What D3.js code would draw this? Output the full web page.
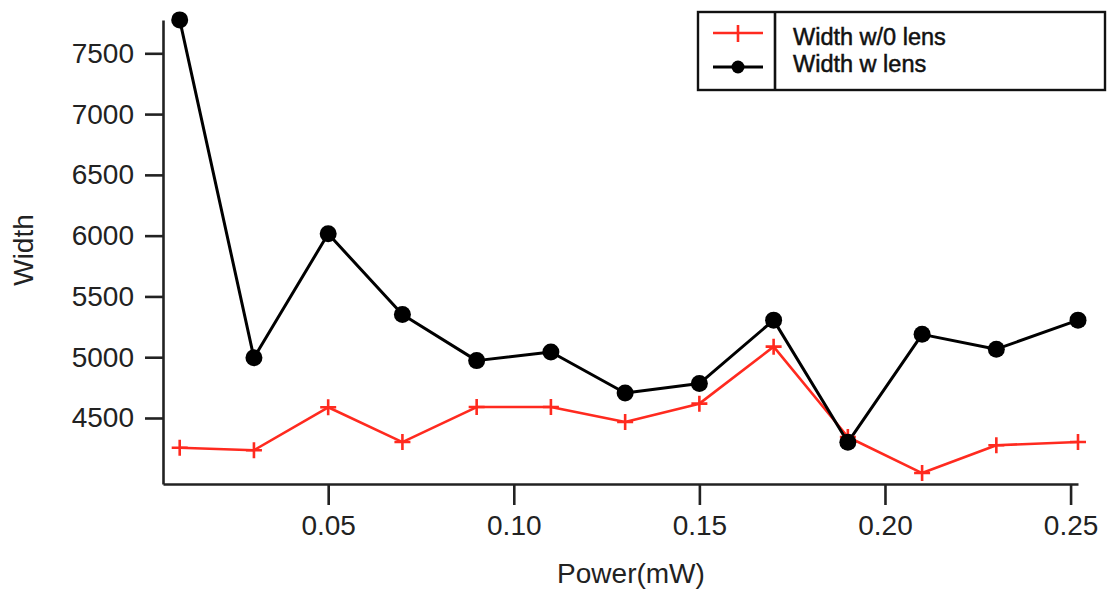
<!DOCTYPE html>
<html>
<head>
<meta charset="utf-8">
<script src="https://cdn.jsdelivr.net/npm/d3@7"></script>
<style>
  html, body { margin: 0; padding: 0; background: #fff; }
  svg { display: block; }
</style>
</head>
<body>
<svg id="chart" width="1107" height="594"></svg>
<script>
// ---- Data ----
const power = [0.01, 0.03, 0.05, 0.07, 0.09, 0.11, 0.13, 0.15, 0.17, 0.19, 0.21, 0.23, 0.252];
const widthNoLens = [4255, 4235, 4588, 4302, 4590, 4590, 4467, 4618, 5087, 4344, 4047, 4276, 4302];
const widthLens   = [7775, 4995, 6015, 5352, 4972, 5043, 4706, 4783, 5305, 4300, 5188, 5066, 5305];
const xTicks = [0.05, 0.10, 0.15, 0.20, 0.25];
const yTicks = [4500, 5000, 5500, 6000, 6500, 7000, 7500];
const seriesNames = ["Width w/0 lens", "Width w lens"];
const xTitle = "Power(mW)";
const yTitle = "Width";

const svg = d3.select("#chart");
const axisColor = "#222";
const fontAxis = "'Liberation Sans', Arial, Helvetica, sans-serif";

const x = d3.scaleLinear().domain([0.0055, 0.252]).range([163, 1078]);
const y = d3.scaleLinear().domain([3957, 7774]).range([484, 20]);

// ---- Axes ----
const xAxis = d3.axisBottom(x).tickValues(xTicks).tickFormat(d3.format(".2f")).tickSizeInner(21).tickSizeOuter(0).tickPadding(10);
const gx = svg.append("g").attr("transform", `translate(0,${y.range()[0]})`).call(xAxis);
gx.select(".domain").attr("stroke", axisColor).attr("stroke-width", 2.6);
gx.selectAll(".tick line").attr("stroke", axisColor).attr("stroke-width", 2.6);
gx.selectAll(".tick text").attr("fill", "#222").style("font-family", fontAxis).style("font-size", "28px");

const yAxis = d3.axisLeft(y).tickValues(yTicks).tickFormat(d3.format("d")).tickSizeInner(18).tickSizeOuter(0).tickPadding(11);
const gy = svg.append("g").attr("transform", `translate(${x.range()[0]},0)`).call(yAxis);
gy.select(".domain").attr("stroke", axisColor).attr("stroke-width", 2.6);
gy.selectAll(".tick line").attr("stroke", axisColor).attr("stroke-width", 2.6);
gy.selectAll(".tick text").attr("fill", "#222").style("font-family", fontAxis).style("font-size", "28px");

// Axis titles
svg.append("text").attr("x", 631).attr("y", 583).attr("text-anchor", "middle")
  .attr("fill", "#222").style("font-family", fontAxis).style("font-size", "28px").text(xTitle);
svg.append("text").attr("transform", "translate(33,250) rotate(-90)").attr("text-anchor", "middle")
  .attr("fill", "#222").style("font-family", fontAxis).style("font-size", "28px").text(yTitle);

// ---- Lines ----
const line = d3.line().x(d => x(d[0])).y(d => y(d[1]));
const redData = power.map((p, i) => [p, widthNoLens[i]]);
const blackData = power.map((p, i) => [p, widthLens[i]]);

svg.append("path").datum(redData).attr("d", line).attr("fill", "none")
  .attr("stroke", "#ff2a1f").attr("stroke-width", 2.6).attr("stroke-linejoin", "round");
svg.append("path").datum(blackData).attr("d", line).attr("fill", "none")
  .attr("stroke", "#000").attr("stroke-width", 3).attr("stroke-linejoin", "round");

// red + markers
const plusSize = 8;
svg.append("g").selectAll("path").data(redData).join("path")
  .attr("d", d => `M${x(d[0]) - plusSize},${y(d[1])}H${x(d[0]) + plusSize}M${x(d[0])},${y(d[1]) - plusSize}V${y(d[1]) + plusSize}`)
  .attr("stroke", "#ff2a1f").attr("stroke-width", 2.6).attr("fill", "none");

// black circles
svg.append("g").selectAll("circle").data(blackData).join("circle")
  .attr("cx", d => x(d[0])).attr("cy", d => y(d[1])).attr("r", 8.5).attr("fill", "#000");

// ---- Legend ----
const lg = svg.append("g");
lg.append("rect").attr("x", 698).attr("y", 12).attr("width", 407).attr("height", 78)
  .attr("fill", "#fff").attr("stroke", "#111").attr("stroke-width", 2.4);
lg.append("line").attr("x1", 775).attr("x2", 775).attr("y1", 12).attr("y2", 90)
  .attr("stroke", "#111").attr("stroke-width", 2.6);
// sample red
lg.append("line").attr("x1", 713).attr("x2", 763).attr("y1", 33).attr("y2", 33).attr("stroke", "#ff2a1f").attr("stroke-width", 2.6);
lg.append("path").attr("d", "M738,25V42").attr("stroke", "#ff2a1f").attr("stroke-width", 2.6);
// sample black
lg.append("line").attr("x1", 713).attr("x2", 763).attr("y1", 67).attr("y2", 67).attr("stroke", "#000").attr("stroke-width", 2.8);
lg.append("circle").attr("cx", 738).attr("cy", 67).attr("r", 6.5).attr("fill", "#000");

const legendFont = "'Liberation Sans', Arial, sans-serif";
lg.selectAll("text.lbl").data(seriesNames).join("text").attr("class", "lbl")
  .attr("x", 793).attr("y", (d, i) => 44.5 + i * 27)
  .attr("fill", "#111").attr("stroke", "#111").attr("stroke-width", 0.5)
  .style("font-family", legendFont).style("font-size", "23.5px")
  .text(d => d);
</script>
</body>
</html>
